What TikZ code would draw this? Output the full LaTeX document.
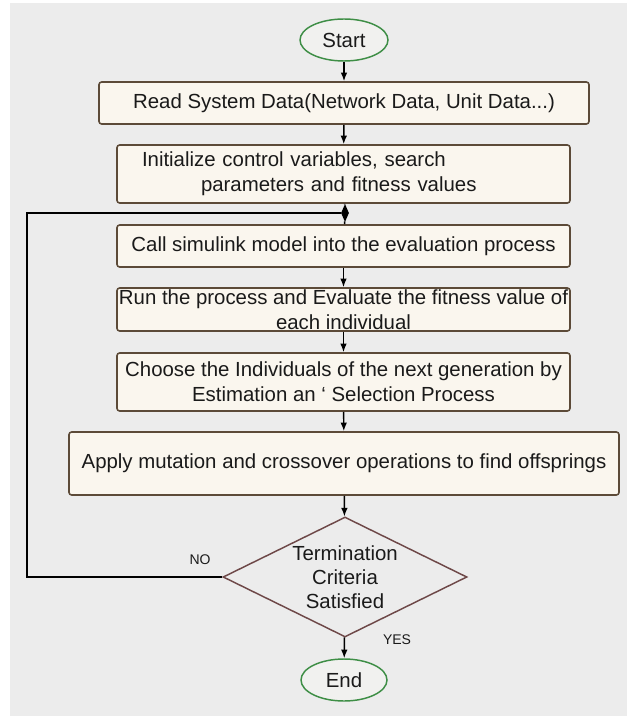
\documentclass[tikz,border=0pt]{standalone}
\usepackage{fontspec}
\setmainfont{Liberation Sans}
\usetikzlibrary{shapes.geometric,arrows.meta}
\definecolor{bggray}{HTML}{ECECEC}
\definecolor{boxfill}{HTML}{FAF6EE}
\definecolor{boxedge}{HTML}{5C4A38}
\definecolor{termgreen}{HTML}{3E8E46}
\definecolor{termfill}{HTML}{F1F1EF}
\definecolor{diaedge}{HTML}{6E4848}
\definecolor{textc}{HTML}{1A1A1A}
\begin{document}
\begin{tikzpicture}[x=0.75pt,y=-0.75pt,
  font=\fontsize{15.3}{19}\selectfont,
  procbox/.style={draw=boxedge,fill=boxfill,line width=1.2pt,rounded corners=2pt,inner xsep=2pt,inner ysep=0pt,align=center,text=textc},
  term/.style={ellipse,draw=termgreen,fill=termfill,line width=1.1pt,inner sep=0pt,text=textc},
  decision/.style={diamond,draw=diaedge,line width=1.1pt,inner sep=0pt},
  flow/.style={line width=1.1pt,-{Latex[length=6.5pt,width=5pt]}},
  plainline/.style={line width=1.1pt},
  small/.style={font=\fontsize{10.5}{12}\selectfont,text=textc}]
\useasboundingbox (0,0) rectangle (627,716);
\fill[bggray] (10,3) rectangle (627,716);

\node[term,minimum width=66pt,minimum height=31.5pt] (start) at (344,40) {Start};
\node[procbox,minimum width=367.5pt,minimum height=31.5pt] (b1) at (344,103) {Read System Data(Network Data, Unit Data...)};
\node[procbox,inner xsep=0pt,text width=339.75pt,align=left,minimum height=43.5pt] (b2) at (343.5,174)
  {\hspace*{18.75pt}Initialize control variables, search\\\hspace*{63pt}parameters and fitness values};
\node[diamond,fill=black,inner sep=0pt,minimum width=6pt,minimum height=13.5pt] (jn) at (345,213) {};
\node[procbox,minimum width=339.75pt,minimum height=31.5pt] (b3) at (343.5,246) {Call simulink model into the evaluation process};
\node[procbox,inner xsep=0.5pt,minimum width=339.75pt,minimum height=32.25pt] (b4) at (343.5,309.5) {Run the process and Evaluate the fitness value of\\each individual};
\node[procbox,minimum width=339.75pt,minimum height=43.5pt] (b5) at (343.5,382) {Choose the Individuals of the next generation by\\Estimation an ` Selection Process};
\node[procbox,minimum width=412.5pt,minimum height=47.25pt] (b6) at (344,463.5) {Apply mutation and crossover operations to find offsprings};
\node[decision,minimum width=183pt,minimum height=90pt,
  label={[align=center,text=textc,font=\fontsize{15.3}{18}\selectfont]center:Termination\\Criteria\\Satisfied}] (dia) at (345,577) {};
\node[term,minimum width=64.5pt,minimum height=31.5pt] (endn) at (344,680) {End};

\node[small] (no) at (200,560) {NO};
\node[small] (yes) at (397,640) {YES};

\coordinate (lb) at (27,577);
\coordinate (lt) at (27,213);

\draw[flow] (start) -- (b1);
\draw[flow] (b1) -- (b2);
\draw[plainline] (b2) -- (jn) -- (b3);
\draw[flow] (b3) -- (b4);
\draw[flow] (b4) -- (b5);
\draw[flow] (b5) -- (b6);
\draw[flow] (b6) -- (dia);
\draw[flow] (dia) -- (endn);
\draw[plainline] (dia.west) -- (lb) -- (lt) -- (jn);
\end{tikzpicture}
\end{document}
